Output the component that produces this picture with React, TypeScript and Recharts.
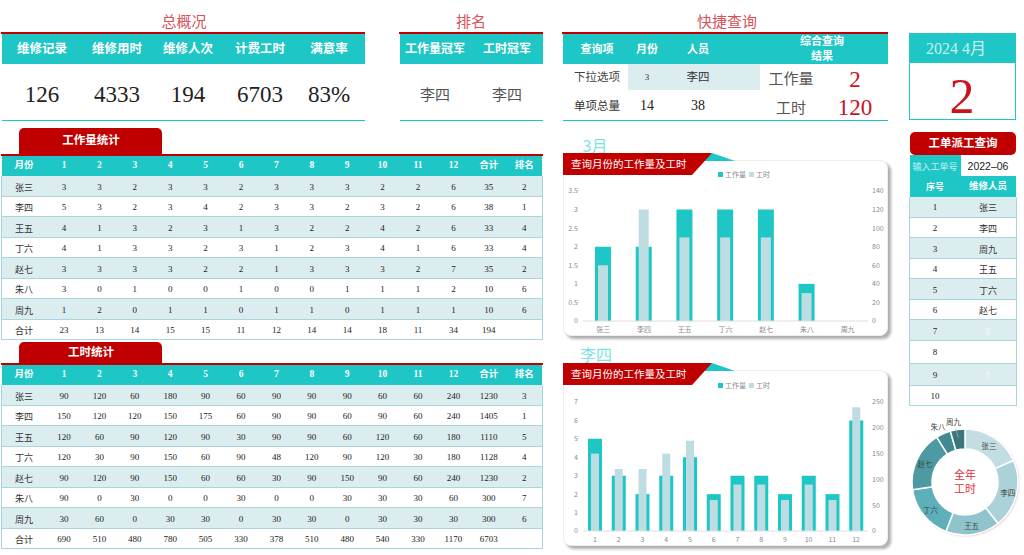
import React from "react";
import { BarChart, Bar, XAxis, YAxis, Legend, PieChart, Pie, Cell } from "recharts";

const names = ["张三", "李四", "王五", "丁六", "赵七", "朱八", "周九"];
const monthHeader = ["月份", "1", "2", "3", "4", "5", "6", "7", "8", "9", "10", "11", "12", "合计", "排名"];
const months = ["1", "2", "3", "4", "5", "6", "7", "8", "9", "10", "11", "12"];

const workRows = [
  [3, 3, 2, 3, 3, 2, 3, 3, 3, 2, 2, 6, 35, 2],
  [5, 3, 2, 3, 4, 2, 3, 3, 2, 3, 2, 6, 38, 1],
  [4, 1, 3, 2, 3, 1, 3, 2, 2, 4, 2, 6, 33, 4],
  [4, 1, 3, 3, 2, 3, 1, 2, 3, 4, 1, 6, 33, 4],
  [3, 3, 3, 3, 2, 2, 1, 3, 3, 3, 2, 7, 35, 2],
  [3, 0, 1, 0, 0, 1, 0, 0, 1, 1, 1, 2, 10, 6],
  [1, 2, 0, 1, 1, 0, 1, 1, 0, 1, 1, 1, 10, 6],
];
const workTotals = [23, 13, 14, 15, 15, 11, 12, 14, 14, 18, 11, 34, 194, ""];

const hourRows = [
  [90, 120, 60, 180, 90, 60, 90, 90, 90, 60, 60, 240, 1230, 3],
  [150, 120, 120, 150, 175, 60, 90, 90, 60, 90, 60, 240, 1405, 1],
  [120, 60, 90, 120, 90, 30, 90, 90, 60, 120, 60, 180, 1110, 5],
  [120, 30, 90, 150, 60, 90, 48, 120, 90, 120, 30, 180, 1128, 4],
  [90, 120, 90, 150, 60, 60, 30, 90, 150, 90, 60, 240, 1230, 2],
  [90, 0, 30, 0, 0, 30, 0, 0, 30, 30, 30, 60, 300, 7],
  [30, 60, 0, 30, 30, 0, 30, 30, 0, 30, 30, 30, 300, 6],
];
const hourTotals = [690, 510, 480, 780, 505, 330, 378, 510, 480, 540, 330, 1170, 6703, ""];

const marchWork = [2, 2, 3, 3, 3, 1, 0];
const marchHours = [60, 120, 90, 90, 90, 30, 0];
const liSiWork = [5, 3, 2, 3, 4, 2, 3, 3, 2, 3, 2, 6];
const liSiHours = [150, 120, 120, 150, 175, 60, 90, 90, 60, 90, 60, 240];

const marchLeftTicks = [0, 0.5, 1, 1.5, 2, 2.5, 3, 3.5];
const marchRightTicks = [0, 20, 40, 60, 80, 100, 120, 140];
const liSiLeftTicks = [0, 1, 2, 3, 4, 5, 6, 7];
const liSiRightTicks = [0, 50, 100, 150, 200, 250];

const yearHours = [1230, 1405, 1110, 1128, 1230, 300, 300];
const donutColors = ["#C3DEE2", "#ACD2D9", "#8FC4CC", "#5DB0B9", "#4E9AA3", "#418A92", "#3B757D"];

const dispatchNames = ["张三", "李四", "周九", "王五", "丁六", "赵七", "0", "", "0", ""];

const overviewHeads = ["维修记录", "维修用时", "维修人次", "计费工时", "满意率"];
const overviewValues = ["126", "4333", "194", "6703", "83%"];
const overviewX = [42, 117, 188, 260, 329];

// row lines of the dispatch list, the lower rows are not even in the sheet
const dispatchLines = [197, 217.7, 238.3, 258.7, 279.3, 299.7, 320.3, 341, 363.7, 385.7, 405.7];

const TEAL = "#1EC6C6";
const RED = "#C00000";
const STRIPE = "#DCEDEF";
const RULE = "#A9D6DC";
const LIGHT = "#BEDDE3";
const SERIF = "'Liberation Serif', 'Noto Sans CJK SC', serif";
const CJK = "'Noto Sans CJK SC', sans-serif";

const T = ({ x, y, size = 9, color = "#333", bold = false, font = CJK, children }: any) => (
  <div
    style={{
      position: "absolute",
      left: x,
      top: y,
      transform: "translate(-50%, -50%)",
      fontSize: size,
      color,
      fontWeight: bold ? 700 : 400,
      fontFamily: font,
      whiteSpace: "nowrap",
      lineHeight: 1,
    }}
  >
    {children}
  </div>
);

const Box = ({ x, y, w, h, bg, style }: any) => (
  <div style={{ position: "absolute", left: x, top: y, width: w, height: h, background: bg, ...style }} />
);

const colX = (i: number) => (i === 0 ? 24 : 64 + (i - 1) * 35.4);

const StatTable = ({ top, heads, rows, totals }: any) => {
  const rowH = 20.5;
  const bodyTop = top + 20;
  const labels = [...names, "合计"];
  return (
    <>
      <Box x={2} y={top} w={540} h={20} bg={TEAL} />
      {heads.map((h: string, i: number) => (
        <T key={h} x={colX(i)} y={top + 10} size={9.5} color="#fff" bold font={SERIF}>
          {h}
        </T>
      ))}
      {labels.map((name, r) => {
        const vals = r < 7 ? rows[r] : totals;
        const y = bodyTop + r * rowH;
        return (
          <React.Fragment key={name}>
            <Box
              x={2}
              y={y}
              w={540}
              h={rowH}
              bg={r % 2 === 0 && r < 7 ? STRIPE : "#fff"}
              style={{ borderBottom: `1px solid ${RULE}`, boxSizing: "border-box" }}
            />
            <T x={colX(0)} y={y + rowH / 2 + 0.5} size={9}>
              {name}
            </T>
            {vals.map((v: any, i: number) => (
              <T key={i} x={colX(i + 1)} y={y + rowH / 2 + 0.5} size={9} color="#222" font={SERIF}>
                {v}
              </T>
            ))}
          </React.Fragment>
        );
      })}
      <Box x={1} y={bodyTop} w={1} h={rowH * 8} bg={RULE} />
      <Box x={542} y={bodyTop} w={1} h={rowH * 8} bg={RULE} />
    </>
  );
};

const TitleFlag = ({ top }: any) => (
  <svg style={{ position: "absolute", left: 563, top, overflow: "visible" }} width={175} height={24}>
    <polygon points="135,8 149,0 172,8" fill={TEAL} />
    <polygon points="0,0 149,0 129,22 0,22" fill={RED} />
    <text x={8} y={15} fontSize={10.5} fill="#fff" fontFamily={CJK}>
      查询月份的工作量及工时
    </text>
  </svg>
);

const tickStyle = { fontSize: 7, fill: "#8a8a8a", fontFamily: "'Noto Sans CJK SC', sans-serif" };

const LegendRow = ({ payload }: any) => (
  <div style={{ display: "flex", alignItems: "center", height: 10, fontSize: 7, fontFamily: CJK, color: "#8a8a8a" }}>
    {(payload || []).map((p: any) => (
      <span key={p.value} style={{ display: "flex", alignItems: "center", marginRight: 3 }}>
        <span style={{ width: 5, height: 5, background: p.color, marginRight: 2, display: "inline-block" }} />
        {p.value}
      </span>
    ))}
  </div>
);

const ComboChart = ({ top, height, labels, work, hours, leftTicks, rightTicks, leftMax, rightMax, wideBar, thinBar, legendH, legendTop }: any) => {
  const data = labels.map((name: string, i: number) => ({ name, 工作量: work[i], 工时: hours[i] }));
  return (
    <div style={{ position: "absolute", left: 563, top }}>
      <BarChart width={325} height={height} data={data} margin={{ top: 0, right: 0, bottom: 0, left: 0 }}>
        <Legend
          verticalAlign="top"
          height={legendH}
          content={<LegendRow />}
          wrapperStyle={{ top: legendTop, left: 155, width: 90 }}
        />
        <XAxis
          xAxisId="a"
          dataKey="name"
          interval={0}
          height={15}
          tick={tickStyle}
          tickSize={4}
          tickLine={false}
          axisLine={{ stroke: "#dedede" }}
        />
        <XAxis xAxisId="b" dataKey="name" hide />
        <YAxis
          yAxisId="left"
          width={20}
          domain={[0, leftMax]}
          ticks={leftTicks}
          interval={0}
          tick={tickStyle}
          tickSize={3}
          tickLine={false}
          axisLine={false}
        />
        <YAxis
          yAxisId="right"
          orientation="right"
          width={20}
          domain={[0, rightMax]}
          ticks={rightTicks}
          interval={0}
          tick={tickStyle}
          tickSize={2}
          tickLine={false}
          axisLine={false}
        />
        <Bar xAxisId="a" yAxisId="left" dataKey="工作量" fill={TEAL} barSize={wideBar} isAnimationActive={false} />
        <Bar xAxisId="b" yAxisId="right" dataKey="工时" fill={LIGHT} barSize={thinBar} isAnimationActive={false} />
      </BarChart>
    </div>
  );
};

const Card = ({ top, h }: any) => (
  <Box
    x={563}
    y={top}
    w={325}
    h={h}
    bg="#fff"
    style={{
      borderRadius: 8,
      border: "1px solid #eee",
      boxSizing: "border-box",
      boxShadow: "3px 3px 3px rgba(0,0,0,0.32)",
    }}
  />
);

const donutLabel = (props: any) => {
  const { cx, cy, midAngle, outerRadius, index } = props;
  const rad = Math.PI / 180;
  const outside = index >= 5;
  const r = outside ? outerRadius + 8 : 44;
  const shiftX = index === 5 ? -2 : index === 6 ? -3 : 0;
  const x = cx + r * Math.cos(-midAngle * rad) + shiftX;
  const y = cy + r * Math.sin(-midAngle * rad);
  return (
    <g>
      {index === 6 && (
        <line x1={x + 2} y1={y + 7} x2={x + 5} y2={y + 16} stroke="#9cbcc0" strokeWidth={0.7} />
      )}
      <text x={x} y={y} textAnchor="middle" dominantBaseline="central" fontSize={7.5} fill="#444" fontFamily={CJK}>
        {names[index]}
      </text>
    </g>
  );
};

export default function App() {
  const donutData = names.map((name, i) => ({ name, value: yearHours[i] }));
  return (
    <div style={{ position: "absolute", left: 0, top: 0, width: 1024, height: 555, overflow: "hidden", background: "#fff" }}>
      {/* 总概况 */}
      <T x={184} y={20} size={15} color="#D8505A">总概况</T>
      <Box x={1} y={32} w={364} h={2} bg={RED} />
      <Box x={2} y={34} w={363} h={30} bg={TEAL} />
      <Box x={2} y={120} w={363} h={1} bg={TEAL} />
      {overviewHeads.map((h, i) => (
        <T key={h} x={overviewX[i]} y={49} size={12.5} color="#fff" bold font={SERIF}>{h}</T>
      ))}
      {overviewValues.map((v, i) => (
        <T key={v} x={overviewX[i]} y={94} size={23} color="#222" font={SERIF}>{v}</T>
      ))}

      {/* 排名 */}
      <T x={471} y={20} size={15} color="#D8505A">排名</T>
      <Box x={399} y={32} w={144} h={2} bg={RED} />
      <Box x={400} y={34} w={143} h={30} bg={TEAL} />
      <Box x={400} y={120} w={143} h={1} bg={TEAL} />
      <T x={435} y={49} size={12} color="#fff" bold font={SERIF}>工作量冠军</T>
      <T x={507} y={49} size={12} color="#fff" bold font={SERIF}>工时冠军</T>
      <T x={435} y={93} size={15} color="#555">李四</T>
      <T x={507} y={93} size={15} color="#555">李四</T>

      {/* 快捷查询 */}
      <T x={727} y={20} size={15} color="#D8505A">快捷查询</T>
      <Box x={562} y={32} w={326} h={2} bg={RED} />
      <Box x={563} y={34} w={325} h={30} bg={TEAL} />
      <Box x={628} y={64} w={132} h={26} bg={STRIPE} />
      <Box x={563} y={120} w={325} h={1} bg={TEAL} />
      <T x={597} y={49} size={11} color="#fff" bold font={SERIF}>查询项</T>
      <T x={647} y={49} size={11} color="#fff" bold font={SERIF}>月份</T>
      <T x={698} y={49} size={11} color="#fff" bold font={SERIF}>人员</T>
      <T x={822} y={41} size={11} color="#fff" bold font={SERIF}>综合查询</T>
      <T x={822} y={56} size={11} color="#fff" bold font={SERIF}>结果</T>
      <T x={597} y={77} size={11.5} color="#444">下拉选项</T>
      <T x={647} y={77} size={9} color="#333" font={SERIF}>3</T>
      <T x={698} y={77} size={11.5} color="#333">李四</T>
      <T x={791} y={77} size={15} color="#555">工作量</T>
      <T x={855} y={79} size={23} color="#C8141E" font={SERIF}>2</T>
      <T x={597} y={106} size={11.5} color="#333">单项总量</T>
      <T x={647} y={106} size={14} color="#222" font={SERIF}>14</T>
      <T x={698} y={106} size={14} color="#222" font={SERIF}>38</T>
      <T x={791} y={106} size={15} color="#555">工时</T>
      <T x={855} y={107} size={23} color="#C8141E" font={SERIF}>120</T>

      {/* 日期 */}
      <Box x={909} y={33} w={107} h={87} bg="#fff" style={{ border: `1px solid ${TEAL}`, boxSizing: "border-box" }} />
      <Box x={909} y={33} w={107} h={30} bg={TEAL} />
      <T x={956} y={49} size={16} color="#C8F0F0" font={SERIF}>2024 4月</T>
      <T x={962} y={96} size={50} color="#C8141E" font={SERIF}>2</T>

      {/* 统计表 */}
      <Box x={19} y={128} w={143} h={27} bg={RED} style={{ borderRadius: "5px 5px 0 0" }} />
      <T x={91} y={140} size={11.5} color="#fff" bold>工作量统计</T>
      <Box x={1} y={154} w={542} h={2} bg={RED} />
      <StatTable top={156} heads={monthHeader} rows={workRows} totals={workTotals} />

      <Box x={19} y={342} w={143} h={21} bg={RED} style={{ borderRadius: "5px 5px 0 0" }} />
      <T x={91} y={352} size={11.5} color="#fff" bold>工时统计</T>
      <Box x={1} y={363} w={542} h={2} bg={RED} />
      <StatTable top={365} heads={monthHeader} rows={hourRows} totals={hourTotals} />

      {/* 图表 */}
      <T x={595} y={145} size={16} color="#7FE3E3">3月</T>
      <Card top={160} h={176} />
      <TitleFlag top={153} />
      <ComboChart
        top={165}
        height={171}
        labels={names}
        work={marchWork}
        hours={marchHours}
        leftTicks={marchLeftTicks}
        rightTicks={marchRightTicks}
        leftMax={3.5}
        rightMax={140}
        wideBar={16}
        thinBar={10}
        legendH={26}
        legendTop={4}
      />
      <T x={596} y={354} size={16} color="#7FE3E3">李四</T>
      <Card top={370} h={176} />
      <TitleFlag top={363} />
      <ComboChart
        top={375}
        height={171}
        labels={months}
        work={liSiWork}
        hours={liSiHours}
        leftTicks={liSiLeftTicks}
        rightTicks={liSiRightTicks}
        leftMax={7}
        rightMax={250}
        wideBar={14}
        thinBar={8}
        legendH={27}
        legendTop={5}
      />

      {/* 工单派工查询 */}
      <Box x={910} y={132} w={106} h={23} bg={RED} style={{ borderRadius: 5 }} />
      <T x={963} y={143} size={11.5} color="#fff" bold>工单派工查询</T>
      <Box x={910} y={155} w={51} h={21} bg={TEAL} />
      <T x={935} y={166} size={9} color="#C8F0F0">输入工单号</T>
      <T x={988} y={166} size={10.5} color="#222" font={"'Liberation Sans', sans-serif"}>2022–06</T>
      <Box x={910} y={176} w={106} h={21} bg={TEAL} />
      <T x={935} y={187} size={9} color="#fff" bold font={SERIF}>序号</T>
      <T x={988} y={187} size={9.5} color="#fff" bold font={SERIF}>维修人员</T>
      {dispatchNames.map((n, i) => {
        const y = dispatchLines[i];
        const h = dispatchLines[i + 1] - y;
        return (
          <React.Fragment key={i}>
            <Box
              x={910}
              y={y}
              w={106}
              h={h}
              bg={i % 2 === 0 ? STRIPE : "#fff"}
              style={{ borderBottom: `1px solid ${RULE}`, boxSizing: "border-box" }}
            />
            <T x={935} y={y + h / 2} size={9} color="#222" font={SERIF}>{i + 1}</T>
            <T x={988} y={y + h / 2} size={9} color={n === "0" ? "#F2F8F9" : "#333"}>{n}</T>
          </React.Fragment>
        );
      })}
      <Box x={909} y={197} w={1} h={209} bg={RULE} />
      <Box x={1016} y={197} w={1} h={209} bg={RULE} />

      {/* 全年工时 */}
      <div
        style={{
          position: "absolute",
          left: 912,
          top: 429,
          width: 106,
          height: 106,
          borderRadius: "50%",
          boxShadow: "1px 1px 2px rgba(220,120,130,0.5)",
        }}
      />
      <div style={{ position: "absolute", left: 905, top: 407 }}>
        <PieChart width={120} height={140} margin={{ top: 0, right: 0, bottom: 0, left: 0 }}>
          <Pie
            data={donutData}
            dataKey="value"
            cx={60}
            cy={75}
            innerRadius={33}
            outerRadius={53}
            startAngle={90}
            endAngle={-270}
            stroke="#fff"
            strokeWidth={1.5}
            label={donutLabel}
            labelLine={false}
            isAnimationActive={false}
          >
            {donutData.map((d, i) => (
              <Cell key={d.name} fill={donutColors[i]} />
            ))}
          </Pie>
        </PieChart>
      </div>
      <T x={965} y={474} size={11} color="#E0313C">全年</T>
      <T x={965} y={488} size={11} color="#E0313C">工时</T>
    </div>
  );
}
